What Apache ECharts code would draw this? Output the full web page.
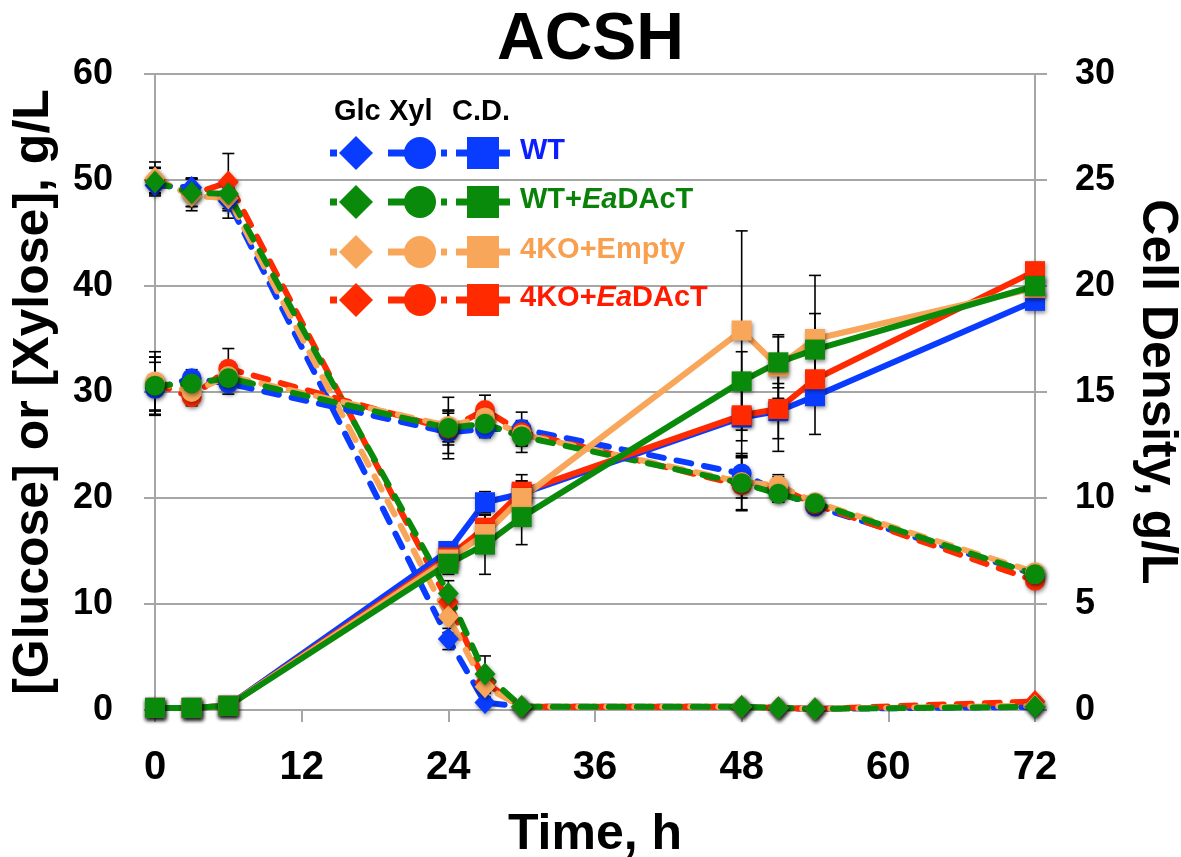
<!DOCTYPE html>
<html>
<head>
<meta charset="utf-8">
<title>ACSH</title>
<script src="https://cdn.jsdelivr.net/npm/echarts@6/dist/echarts.min.js"></script>
<style>
  html, body { margin: 0; padding: 0; background: #fff; }
  #chart { width: 1181px; height: 857px; }
</style>
</head>
<body>
<div id="chart"></div>
<script>
// sampling times (h)
const times = [0, 3, 6, 24, 27, 30, 48, 51, 54, 72];

const strains = ['WT', 'WT+EaDAcT', '4KO+Empty', '4KO+EaDAcT'];
const colors = ['#0a3cff', '#0a8a0a', '#f8a65a', '#ff2a00'];
const textColors = ['#0a1eff', '#0a820a', '#f8a050', '#ff1a00'];

// glucose, g/L
const glcWT = [49.5, 49.3, 48.0, 6.7, 0.7, 0.3, 0.3, 0.2, 0.1, 0.3];
const glcWTEa = [49.8, 48.8, 48.7, 11.0, 3.4, 0.3, 0.3, 0.2, 0.1, 0.3];
const glcEmpty = [50.2, 48.5, 48.3, 8.8, 2.2, 0.3, 0.3, 0.2, 0.1, 0.4];
const glcEa = [50.0, 48.6, 49.8, 10.2, 2.6, 0.3, 0.3, 0.2, 0.1, 0.8];

// xylose, g/L
const xylWT = [30.3, 31.3, 30.8, 26.2, 26.5, 26.5, 22.3, 20.6, 19.2, 12.8];
const xylWTEa = [30.6, 30.8, 31.3, 26.6, 27.0, 25.8, 21.4, 20.4, 19.5, 12.8];
const xylEmpty = [31.0, 30.0, 31.5, 26.8, 27.6, 26.0, 21.5, 21.2, 19.6, 13.0];
const xylEa = [30.8, 29.5, 32.2, 26.5, 28.3, 26.2, 21.2, 21.0, 19.4, 12.2];

// cell density, g/L (right axis)
const cdWT = [0.1, 0.1, 0.2, 7.5, 9.8, 10.2, 13.8, 14.1, 14.8, 19.3];
const cdWTEa = [0.1, 0.1, 0.2, 6.9, 7.8, 9.1, 15.5, 16.4, 17.0, 20.0];
const cdEmpty = [0.1, 0.1, 0.2, 7.1, 8.3, 10.0, 17.9, 16.2, 17.5, 19.9];
const cdEa = [0.1, 0.1, 0.2, 7.2, 8.6, 10.3, 13.9, 14.2, 15.6, 20.7];

// standard deviations
const glcErrWT = [0.8, 0.9, 1.6, 1.0, 0.4, 0.2, 0.3, 0.2, 0.2, 0.2];
const glcErrWTEa = [1.3, 1.3, 1.0, 1.2, 1.7, 0.2, 0.2, 0.2, 0.2, 0.3];
const glcErrEmpty = [1.5, 1.0, 1.0, 1.5, 1.0, 0.2, 0.2, 0.2, 0.2, 0.2];
const glcErrEa = [1.2, 1.5, 2.7, 1.0, 1.0, 0.2, 0.2, 0.2, 0.2, 0.4];
const xylErrWT = [2.5, 0.8, 1.0, 2.0, 0.8, 1.6, 1.5, 1.0, 0.6, 0.3];
const xylErrWTEa = [2.7, 0.5, 1.0, 2.9, 1.0, 1.5, 2.5, 0.8, 0.6, 0.3];
const xylErrEmpty = [2.8, 0.8, 1.0, 1.5, 1.0, 1.0, 2.7, 0.8, 0.6, 0.3];
const xylErrEa = [2.5, 0.8, 1.9, 1.5, 1.4, 1.0, 1.2, 1.2, 0.8, 0.5];
const cdErrWT = [0.05, 0.05, 0.05, 0.4, 0.5, 0.6, 1.8, 1.3, 1.8, 0.3];
const cdErrWTEa = [0.05, 0.05, 0.05, 0.5, 1.4, 1.3, 1.4, 1.2, 1.7, 0.3];
const cdErrEmpty = [0.05, 0.05, 0.05, 0.4, 0.6, 0.8, 4.7, 1.5, 3.0, 0.3];
const cdErrEa = [0.05, 0.05, 0.05, 0.4, 0.6, 0.8, 1.2, 2.0, 1.0, 0.4];

const glc = [glcWT, glcWTEa, glcEmpty, glcEa];
const xyl = [xylWT, xylWTEa, xylEmpty, xylEa];
const cd = [cdWT, cdWTEa, cdEmpty, cdEa];
const glcErr = [glcErrWT, glcErrWTEa, glcErrEmpty, glcErrEa];
const xylErr = [xylErrWT, xylErrWTEa, xylErrEmpty, xylErrEa];
const cdErr = [cdErrWT, cdErrWTEa, cdErrEmpty, cdErrEa];

const font = "'Liberation Sans', Arial, sans-serif";
const drawOrder = [0, 3, 2, 1];

const chart = echarts.init(document.getElementById('chart'));

function errRender(params, api) {
  const x = api.value(0);
  const top = api.coord([x, api.value(2)]);
  const bot = api.coord([x, api.value(1)]);
  const w = 6;
  const st = { stroke: '#000', lineWidth: 1.6 };
  return {
    type: 'group',
    children: [
      { type: 'line', shape: { x1: top[0], y1: top[1], x2: bot[0], y2: bot[1] }, style: st },
      { type: 'line', shape: { x1: top[0] - w, y1: top[1], x2: top[0] + w, y2: top[1] }, style: st },
      { type: 'line', shape: { x1: bot[0] - w, y1: bot[1], x2: bot[0] + w, y2: bot[1] }, style: st }
    ]
  };
}

const shadow = { shadowBlur: 4, shadowColor: 'rgba(0,0,0,0.45)', shadowOffsetX: 1, shadowOffsetY: 2 };

const series = [];
// error bars first, behind everything
[[glc, glcErr, 0], [xyl, xylErr, 0], [cd, cdErr, 1]].forEach(([vals, errs, axis]) => {
  drawOrder.forEach(i => {
    series.push({
      type: 'custom',
      yAxisIndex: axis,
      renderItem: errRender,
      encode: { x: 0, y: [1, 2] },
      data: times.map((t, k) => [t, vals[i][k] - errs[i][k], vals[i][k] + errs[i][k]]),
      z: 1,
      clip: false,
      silent: true
    });
  });
});

function lineSeries(name, vals, i, symbol, size, dashed, axis) {
  return {
    name: name,
    type: 'line',
    yAxisIndex: axis,
    data: times.map((t, k) => [t, vals[i][k]]),
    symbol: symbol,
    symbolSize: size,
    showAllSymbol: true,
    z: 3,
    clip: false,
    lineStyle: {
      color: colors[i],
      width: 6,
      type: dashed ? [15, 13] : 'solid',
      cap: dashed ? 'round' : 'butt',
      join: 'round'
    },
    itemStyle: Object.assign({ color: colors[i], opacity: 1 }, shadow),
    emphasis: { disabled: true }
  };
}

drawOrder.forEach(i => series.push(lineSeries('Glc ' + strains[i], glc, i, 'diamond', [21, 23], true, 0)));
drawOrder.forEach(i => series.push(lineSeries('Xyl ' + strains[i], xyl, i, 'circle', 20, true, 0)));
drawOrder.forEach(i => series.push(lineSeries('CD ' + strains[i], cd, i, 'rect', 20, false, 1)));

// custom legend (Glc / Xyl / C.D. columns)
const legendRows = [153, 202, 252, 300];
const headStyle = { fontSize: 29, fontWeight: 'bold', fontFamily: font, fill: '#000' };
const legendEls = [
  { type: 'text', left: 334, top: 97, style: Object.assign({ text: 'Glc' }, headStyle) },
  { type: 'text', left: 389, top: 97, style: Object.assign({ text: 'Xyl' }, headStyle) },
  { type: 'text', left: 452, top: 97, style: Object.assign({ text: 'C.D.' }, headStyle) }
];
const legendLabels = [
  [{ t: 'WT', s: 'n' }],
  [{ t: 'WT+', s: 'n' }, { t: 'Ea', s: 'i' }, { t: 'DAcT', s: 'n' }],
  [{ t: '4KO+Empty', s: 'n' }],
  [{ t: '4KO+', s: 'n' }, { t: 'Ea', s: 'i' }, { t: 'DAcT', s: 'n' }]
];
strains.forEach((s, i) => {
  const y = legendRows[i];
  const c = colors[i];
  legendEls.push(
    { type: 'rect', shape: { x: 330, y: y - 3.5, width: 7, height: 7 }, style: { fill: c } },
    { type: 'polygon', shape: { points: [[356, y - 17], [373, y], [356, y + 17], [339, y]] }, style: { fill: c } },
    { type: 'rect', shape: { x: 388, y: y - 3.5, width: 30, height: 7 }, style: { fill: c } },
    { type: 'circle', shape: { cx: 420, cy: y, r: 16 }, style: { fill: c } },
    { type: 'rect', shape: { x: 441, y: y - 3.5, width: 6, height: 7 }, style: { fill: c } },
    { type: 'rect', shape: { x: 456, y: y - 3.5, width: 54, height: 7 }, style: { fill: c } },
    { type: 'rect', shape: { x: 467, y: y - 16, width: 32, height: 32 }, style: { fill: c } },
    {
      type: 'text', left: 520, top: y - 17,
      style: {
        text: legendLabels[i].map(p => '{' + p.s + '|' + p.t + '}').join(''),
        rich: {
          n: { fontSize: 29, fontWeight: 'bold', fontFamily: font, fill: textColors[i] },
          i: { fontSize: 29, fontWeight: 'bold', fontStyle: 'italic', fontFamily: font, fill: textColors[i] }
        }
      }
    }
  );
});

chart.setOption({
  animation: false,
  backgroundColor: '#fff',
  textStyle: { fontFamily: font },
  title: {
    text: 'ACSH',
    left: 'center',
    top: 3,
    textStyle: { fontSize: 66, fontWeight: 'bold', color: '#000', fontFamily: font }
  },
  grid: { left: 155, right: 146, top: 74, bottom: 147, containLabel: false, outerBoundsMode: 'none' },
  xAxis: {
    type: 'value',
    min: 0,
    max: 72,
    interval: 12,
    name: 'Time, h',
    nameLocation: 'middle',
    nameGap: 100,
    nameTextStyle: { fontSize: 50, fontWeight: 'bold', color: '#000', fontFamily: font },
    axisLine: { show: true, lineStyle: { color: '#a6a6a6', width: 2 } },
    axisTick: { show: true, length: 12, lineStyle: { color: '#a6a6a6', width: 2 } },
    axisLabel: { fontSize: 40, fontWeight: 'bold', color: '#000', margin: 38, fontFamily: font },
    splitLine: { show: false }
  },
  yAxis: [
    {
      type: 'value',
      min: 0,
      max: 60,
      interval: 10,
      name: '[Glucose] or [Xylose], g/L',
      nameLocation: 'middle',
      nameGap: 96,
      nameTextStyle: { fontSize: 50, fontWeight: 'bold', color: '#000', fontFamily: font },
      axisLine: { show: true, lineStyle: { color: '#a6a6a6', width: 2 } },
      axisTick: { show: true, length: 11, lineStyle: { color: '#a6a6a6', width: 2 } },
      axisLabel: { fontSize: 36, fontWeight: 'bold', color: '#000', margin: 42, fontFamily: font },
      splitLine: { show: true, lineStyle: { color: '#a6a6a6', width: 2 } }
    },
    {
      type: 'value',
      min: 0,
      max: 30,
      interval: 5,
      position: 'right',
      name: 'Cell Density, g/L',
      nameLocation: 'middle',
      nameGap: 97,
      nameRotate: -90,
      nameTextStyle: { fontSize: 50, fontWeight: 'bold', color: '#000', fontFamily: font },
      axisLine: { show: true, lineStyle: { color: '#a6a6a6', width: 2 } },
      axisTick: { show: true, length: 12, lineStyle: { color: '#a6a6a6', width: 2 } },
      axisLabel: { fontSize: 36, fontWeight: 'bold', color: '#000', margin: 40, fontFamily: font },
      splitLine: { show: false }
    }
  ],
  graphic: legendEls.map(e => Object.assign({ z: 50 }, e)),
  series: series
});
</script>
</body>
</html>
